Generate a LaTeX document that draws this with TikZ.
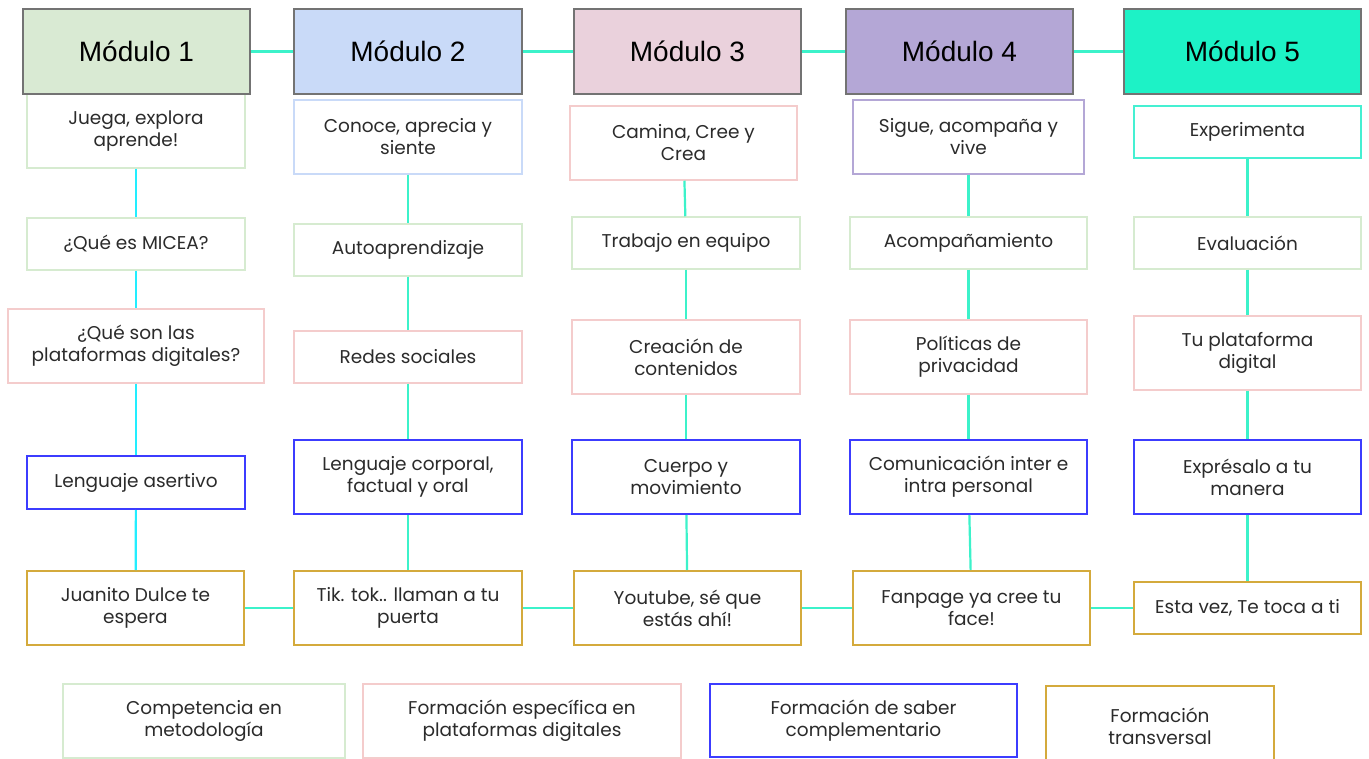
\documentclass[tikz,border=0pt]{standalone}
\usepackage{fontspec}
\setmainfont{Poppins}
\newfontfamily\hdrfont{Liberation Sans}
\usetikzlibrary{positioning}
\definecolor{modA}{HTML}{D9EAD3}
\definecolor{modB}{HTML}{C9DAF8}
\definecolor{modC}{HTML}{EAD1DC}
\definecolor{modD}{HTML}{B4A7D6}
\definecolor{modE}{HTML}{1DF2C6}
\definecolor{metc}{HTML}{D6EBD0}
\definecolor{platc}{HTML}{F4CCCC}
\definecolor{sabc}{HTML}{3C3CFF}
\definecolor{transc}{HTML}{D4AA3C}
\definecolor{aquac}{HTML}{45F0D2}
\definecolor{linkc}{HTML}{3CF2CA}
\definecolor{cyanc}{HTML}{22EEFF}
\definecolor{txtc}{HTML}{2B2B2B}

\begin{document}
\begin{tikzpicture}[x=1pt,y=-1pt,
  box/.style={draw, rectangle, align=center, inner sep=2pt, text=txtc, font=\fontsize{18.5}{22}\selectfont, line width=1.5pt},
  sz/.style 2 args={minimum width=#1, minimum height=#2},
  met/.style={box, draw=metc},
  plat/.style={box, draw=platc},
  sab/.style={box, draw=sabc, line width=2pt},
  trans/.style={box, draw=transc, line width=2pt},
  hdr/.style={draw=gray!90!black, line width=2pt, sz={227}{85}, font=\hdrfont\fontsize{28}{32}\selectfont},
  link/.style={draw=linkc, line width=2.2pt},
  link1/.style={draw=cyanc, line width=2.2pt}]
  \clip (0,0) rectangle (1369,759);
  \fill[white] (0,0) rectangle (1369,759);

  % modulo 1
  \node[met, sz={218}{74}] (j1) at (136,131) {Juega, explora\\aprende!};
  \node[met, sz={218}{52}] (j2) at (136,244) {¿Qué es MICEA?};
  \node[plat, sz={256}{74}] (j3) at (136,346) {¿Qué son las\\plataformas digitales?};
  \node[sab, sz={218}{53}] (j4) at (136,482.5) {Lenguaje asertivo};
  \node[trans, sz={217}{74}] (j5) at (135.5,608) {Juanito Dulce te\\espera};

  % modulo 2
  \node[box, draw=modB, sz={228}{74}] (c1) at (408,137) {Conoce, aprecia y\\siente};
  \node[met, sz={228}{52}] (c2) at (408,250) {Autoaprendizaje};
  \node[plat, sz={228}{52}] (c3) at (408,357) {Redes sociales};
  \node[sab, sz={228}{74}] (c4) at (408,477) {Lenguaje corporal,\\factual y oral};
  \node[trans, sz={228}{74}] (c5) at (408,608) {Tik. tok.. llaman a tu\\puerta};

  % modulo 3
  \node[plat, sz={227}{74}] (d1) at (683.5,143) {Camina, Cree y\\Crea};
  \node[met, sz={228}{52}] (d2) at (686,243) {Trabajo en equipo};
  \node[plat, sz={228}{74}] (d3) at (686,357) {Creación de\\contenidos};
  \node[sab, sz={228}{74}] (d4) at (686,477) {Cuerpo y\\movimiento};
  \node[trans, sz={227}{74}] (d5) at (687.5,608) {Youtube, sé que\\estás ahí!};

  % modulo 4
  \node[box, draw=modD, sz={231}{74}] (e1) at (968.5,137) {Sigue, acompaña y\\vive};
  \node[met, sz={237}{52}] (e2) at (968.5,243) {Acompañamiento};
  \node[plat, sz={237}{74}] (e3) at (968.5,357) {Políticas de\\privacidad};
  \node[sab, sz={237}{74}] (e4) at (968.5,477) {Comunicación inter e\\intra personal};
  \node[trans, sz={237}{74}] (e5) at (971.5,608) {Fanpage ya cree tu\\face!};

  % modulo 5
  \node[box, draw=aquac, sz={227}{52}] (f1) at (1247.5,132) {Experimenta};
  \node[met, sz={227}{52}] (f2) at (1247.5,243) {Evaluación};
  \node[plat, sz={227}{74}] (f3) at (1247.5,353) {Tu plataforma\\digital};
  \node[sab, sz={227}{74}] (f4) at (1247.5,477) {Exprésalo a tu\\manera};
  \node[trans, sz={227}{52}] (f5) at (1247.5,608) {Esta vez, Te toca a ti};

  % cabeceras
  \node[hdr, fill=modA] (m1) at (136.5,51.5) {Módulo 1};
  \node[hdr, fill=modB, sz={228}{85}] (m2) at (408,51.5) {Módulo 2};
  \node[hdr, fill=modC] (m3) at (687.5,51.5) {Módulo 3};
  \node[hdr, fill=modD] (m4) at (959.5,51.5) {Módulo 4};
  \node[hdr, fill=modE, sz={237}{85}] (m5) at (1242.5,51.5) {Módulo 5};

  % leyenda
  \node[met, sz={282}{74}] (l1) at (204,721) {Competencia en\\metodología};
  \node[plat, sz={318}{74}] (l2) at (522,721) {Formación específica en\\plataformas digitales};
  \node[sab, sz={307}{73}] (l3) at (863.5,720.5) {Formación de saber\\complementario};
  \node[trans, sz={228}{80}] (l4) at (1160,726) {Formación\\transversal};

  % enlaces
  \draw[link] (m1) -- (m2);
  \draw[link] (m2) -- (m3);
  \draw[link] (m3) -- (m4);
  \draw[link] (m4) -- (m5);

  \draw[link1] (j1) -- (j2);
  \draw[link1] (j2) -- (j3);
  \draw[link1] (j3) -- (j4);
  \draw[link1] (j4) -- (j5);

  \draw[link] (c1) -- (c2);
  \draw[link] (c2) -- (c3);
  \draw[link] (c3) -- (c4);
  \draw[link] (c4) -- (c5);

  \draw[link] (d1) -- (d2);
  \draw[link] (d2) -- (d3);
  \draw[link] (d3) -- (d4);
  \draw[link] (d4) -- (d5);

  \draw[link] (e1) -- (e2);
  \draw[link] (e2) -- (e3);
  \draw[link] (e3) -- (e4);
  \draw[link] (e4) -- (e5);

  \draw[link] (f1) -- (f2);
  \draw[link] (f2) -- (f3);
  \draw[link] (f3) -- (f4);
  \draw[link] (f4) -- (f5);

  \draw[link] (j5) -- (c5);
  \draw[link] (c5) -- (d5);
  \draw[link] (d5) -- (e5);
  \draw[link] (e5) -- (f5);
\end{tikzpicture}
\end{document}
